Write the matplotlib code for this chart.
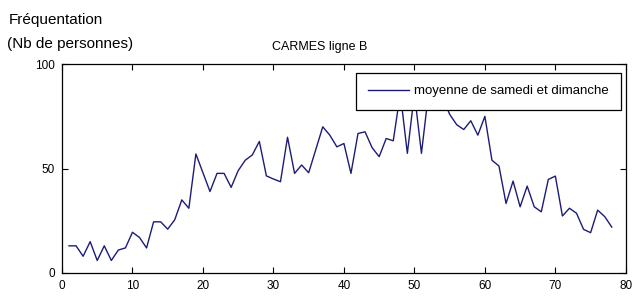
import matplotlib
matplotlib.use('Agg')
import matplotlib.pyplot as plt

plt.rcParams['font.family'] = ['Liberation Sans', 'DejaVu Sans']

# Weekly-average attendance, Carmes station line B
jours = list(range(1, 79))
moyenne = [13, 13, 8, 15, 6, 13, 6, 11, 12, 19.5,
           17, 12, 24.5, 24.5, 21, 25.5, 35, 31, 57, 48,
           39, 47.7, 47.7, 41, 49, 54, 56.5, 63, 46.5, 45,
           43.7, 65, 47.7, 51.7, 48, 59, 70, 66, 60.4, 62,
           47.7, 66.8, 67.6, 60, 55.7, 64.4, 63.3, 86, 57.3, 86,
           57.3, 86, 85, 84, 76, 71, 68.7, 72.9, 66, 75,
           54, 51.2, 33.3, 44, 31.7, 41.6, 31.7, 29.3, 44.8, 46.4,
           27.3, 31, 28.6, 20.9, 19.3, 30.1, 27, 22]

xticks = [0, 10, 20, 30, 40, 50, 60, 70, 80]
yticks = [0, 50, 100]

fig = plt.figure(figsize=(6.35, 3.04), dpi=100)
ax = fig.add_axes([0.0976, 0.102, 0.888, 0.687])

ax.plot(jours, moyenne, color='#1c1c78', linewidth=1.0,
        label='moyenne de samedi et dimanche')

ax.set_xlim(0, 80)
ax.set_ylim(0, 100)
ax.set_xticks(xticks)
ax.set_yticks(yticks)
ax.tick_params(direction='in', length=4, width=0.8, top=True, right=True,
               labelsize=8.5, pad=5)
for s in ax.spines.values():
    s.set_linewidth(0.9)

fig.text(0.504, 0.845, 'CARMES ligne B', fontsize=9, ha='center', va='center')

fig.text(0.013, 0.935, 'Fréquentation', fontsize=11, ha='left', va='center')
fig.text(0.011, 0.855, '(Nb de personnes)', fontsize=11, ha='left', va='center')

leg = ax.legend(loc='upper right', bbox_to_anchor=(0.991, 0.957),
                fontsize=9.5, frameon=True, fancybox=False,
                edgecolor='black', framealpha=1, borderaxespad=0,
                handlelength=3.1, handletextpad=0.4, borderpad=0.92)
leg.get_frame().set_linewidth(0.9)

plt.savefig('out.png', dpi=100)
plt.close()
